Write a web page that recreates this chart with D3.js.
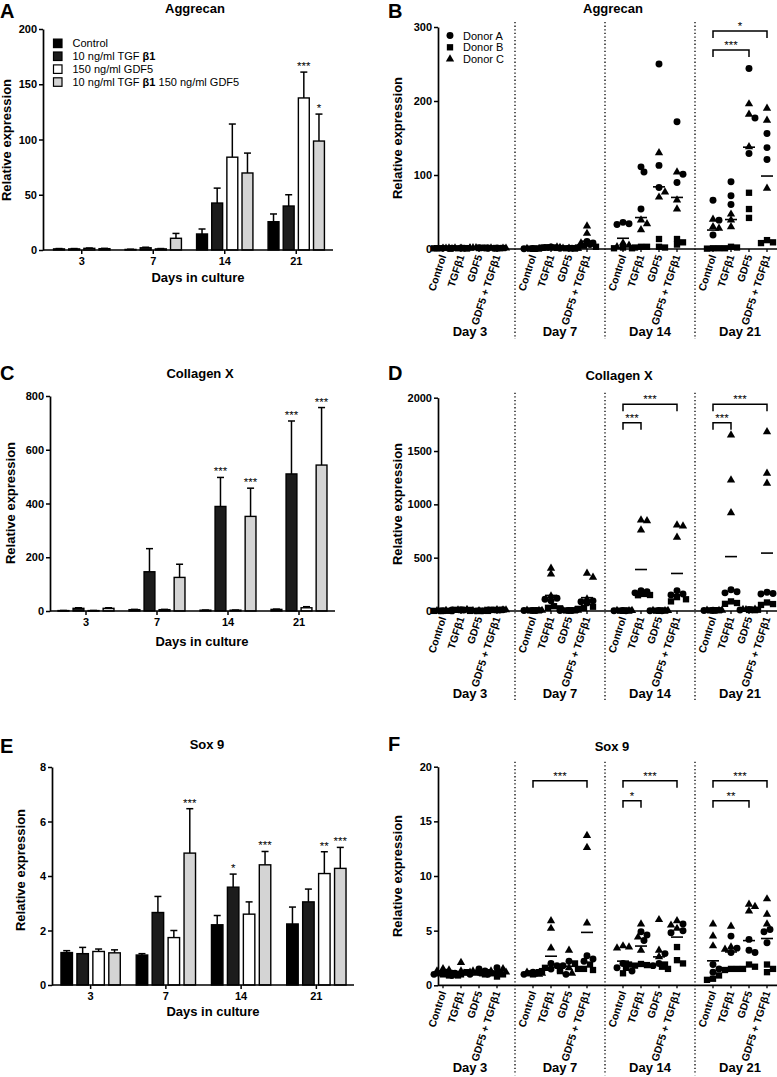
<!DOCTYPE html>
<html><head><meta charset="utf-8">
<script src="https://cdn.jsdelivr.net/npm/d3@7"></script>
<style>
body{margin:0;background:#fff}
svg{display:block}
text{font-family:"Liberation Sans",Arial,Helvetica,sans-serif;fill:#000}
</style>
</head><body>
<svg id="chart" width="777" height="1077"></svg>
<script>
// ---------------- DATA ----------------
const days = ["3", "7", "14", "21"];
const dayLabels = ["Day 3", "Day 7", "Day 14", "Day 21"];
const catLabels = ["Control", "TGFβ1", "GDF5", "GDF5 + TGFβ1"];
const legendTreatments = [["Control", ""], ["10 ng/ml TGF ", "β1"], ["150 ng/ml GDF5", ""], ["10 ng/ml TGF ", "β1", " 150 ng/ml GDF5"]];
const donors = ["Donor A", "Donor B", "Donor C"];

// Bar panels: mean and upper error per [day][treatment]
const aggMean = [[1.0, 1.0, 1.5, 1.2], [0.5, 2.0, 1.0, 10.6], [14.5, 42.5, 84, 69.7], [25.6, 39.8, 137.6, 98.6]];
const aggErr  = [[0.3, 0.3, 0.3, 0.3], [0.2, 0.5, 0.3, 4.4], [4.5, 13.5, 30, 18], [7, 10.2, 23.4, 24.4]];
const aggStars = [["", "", "", ""], ["", "", "", ""], ["", "", "", ""], ["", "", "***", "*"]];

const colMean = [[1.5, 10, 1.5, 10], [5, 146, 5, 125], [3, 389, 3, 352], [6, 510, 12, 543]];
const colErr  = [[0.5, 2, 0.5, 2], [1, 86, 1, 49], [0.5, 108, 0.5, 105], [1, 197, 4, 214]];
const colStars = [["", "", "", ""], ["", "", "", ""], ["", "***", "", "***"], ["", "***", "", "***"]];

const soxMean = [[1.19, 1.15, 1.23, 1.18], [1.10, 2.66, 1.74, 4.84], [2.21, 3.59, 2.60, 4.41], [2.24, 3.05, 4.09, 4.28]];
const soxErr  = [[0.07, 0.23, 0.09, 0.11], [0.05, 0.59, 0.26, 1.63], [0.34, 0.48, 0.45, 0.49], [0.62, 0.47, 0.80, 0.77]];
const soxStars = [["", "", "", ""], ["", "", "", "***"], ["", "*", "", "***"], ["", "", "**", "***"]];

// Dot panels: per donor, [day][treatment] -> replicate values
const aggDonorA = [
  [[1.2, 1.0, 0.8], [1.1, 0.9, 1.3], [1.7, 1.4, 1.2], [1.4, 1.1, 1.0]],
  [[0.6, 0.5, 0.4], [2.8, 2.2, 1.9], [1.2, 1.0, 0.9], [10, 8, 6]],
  [[36, 34, 33], [111, 104, 54], [250, 113, 83], [172, 101, 90]],
  [[66, 39, 19], [91, 72, 60], [244, 177, 129], [156, 137, 121]]];
const aggDonorB = [
  [[0.9, 1.1, 1.0], [0.8, 1.0, 1.2], [1.5, 1.3, 1.6], [1.2, 1.0, 1.3]],
  [[0.5, 0.4, 0.6], [1.5, 2.0, 1.8], [1.0, 0.8, 1.1], [4.5, 3, 2]],
  [[2, 1, 1], [3, 3, 2], [13.5, 3, 2], [13.5, 9, 6]],
  [[1, 1, 0.5], [3, 2, 1], [76, 54, 42], [12, 9, 8]]];
const aggDonorC = [
  [[1.1, 0.9, 1.2], [1.2, 1.0, 0.9], [1.4, 1.6, 1.5], [1.1, 1.3, 1.0]],
  [[0.5, 0.6, 0.4], [2.5, 1.6, 2.0], [1.0, 1.1, 0.9], [31, 21, 8]],
  [[8, 5, 3], [39, 34, 26], [130, 77, 70], [104, 66, 54]],
  [[40, 30, 28], [47, 39, 30], [196, 182, 138], [190, 174, 82]]];

const colDonorA = [
  [[1, 2, 1], [12, 10, 9], [1, 2, 1], [11, 9, 10]],
  [[5, 4, 6], [120, 110, 95], [5, 6, 4], [95, 86, 76]],
  [[3, 2, 4], [190, 180, 170], [3, 2, 4], [190, 160, 150]],
  [[6, 5, 7], [200, 180, 170], [15, 12, 10], [175, 165, 160]]];
const colDonorB = [
  [[2, 1, 1], [9, 11, 10], [1, 1, 2], [10, 11, 9]],
  [[4, 5, 6], [45, 30, 25], [4, 5, 6], [40, 28, 20]],
  [[3, 4, 2], [160, 150, 148], [3, 2, 4], [130, 110, 90]],
  [[5, 6, 7], [90, 75, 67], [8, 10, 12], [80, 65, 57]]];
const colDonorC = [
  [[1, 2, 2], [10, 12, 8], [2, 1, 1], [12, 8, 10]],
  [[5, 6, 4], [400, 347, 140], [6, 4, 5], [353, 316, 111]],
  [[4, 3, 2], [853, 846, 759], [4, 3, 2], [806, 797, 690]],
  [[6, 7, 5], [1650, 1228, 921], [14, 12, 15], [1680, 1290, 1197]]];

const soxDonorA = [
  [[1.1, 1.2, 1.0], [1.0, 0.9, 1.1], [1.5, 1.3, 1.2], [1.6, 1.2, 1.0]],
  [[1.1, 1.2, 1.0], [2.0, 1.8, 1.5], [2.2, 1.8, 1.0], [2.7, 2.4, 2.2]],
  [[2.0, 1.6, 1.3], [4.9, 4.6, 4.1], [2.9, 2.0, 1.8], [5.6, 5.0, 4.8]],
  [[1.9, 1.5, 1.2], [4.5, 3.4, 3.0], [4.2, 3.2, 3.0], [5.1, 4.9, 3.9]]];
const soxDonorB = [
  [[1.0, 1.1, 0.9], [1.0, 0.9, 1.2], [1.1, 1.0, 1.2], [1.0, 0.8, 1.1]],
  [[1.1, 1.0, 1.2], [1.6, 1.4, 1.3], [2.0, 1.5, 1.3], [1.9, 1.5, 1.4]],
  [[1.9, 1.6, 1.1], [1.95, 1.85, 1.8], [1.9, 1.7, 1.5], [3.5, 2.3, 2.0]],
  [[0.9, 0.6, 0.5], [1.5, 1.5, 1.4], [1.9, 1.7, 1.5], [1.9, 1.5, 1.2]]];
const soxDonorC = [
  [[1.4, 1.3, 1.5], [2.07, 1.3, 1.1], [1.3, 1.2, 1.1], [1.5, 1.3, 1.2]],
  [[1.2, 1.1, 1.0], [5.9, 5.2, 3.4], [3.2, 1.6, 1.1], [13.7, 12.6, 5.7]],
  [[3.6, 3.5, 3.4], [5.6, 4.4, 3.2], [6.0, 3.2, 2.6], [5.9, 5.5, 5.2]],
  [[5.6, 4.5, 3.6], [5.4, 3.5, 3.3], [7.4, 7.2, 6.8], [7.9, 6.5, 5.6]]];

// significance brackets: day index, treatment from/to, level (0 = outer)
const aggBrackets = [
  {day: 3, from: 0, to: 2, level: 1, label: "***"},
  {day: 3, from: 0, to: 3, level: 0, label: "*"}];
const colBrackets = [
  {day: 2, from: 0, to: 1, level: 1, label: "***"},
  {day: 2, from: 0, to: 3, level: 0, label: "***"},
  {day: 3, from: 0, to: 1, level: 1, label: "***"},
  {day: 3, from: 0, to: 3, level: 0, label: "***"}];
const soxBrackets = [
  {day: 1, from: 0, to: 3, level: 0, label: "***"},
  {day: 2, from: 0, to: 3, level: 0, label: "***"},
  {day: 2, from: 0, to: 1, level: 1, label: "*"},
  {day: 3, from: 0, to: 3, level: 0, label: "***"},
  {day: 3, from: 0, to: 2, level: 1, label: "**"}];

// ---------------- DRAWING ----------------
const svg = d3.select("#chart");
const barFills = ["#000000", "#1c1c1c", "#ffffff", "#d4d4d4"];
const symbolTypes = [d3.symbolCircle, d3.symbolSquare, d3.symbolTriangle];
const symbolSizes = [38, 40, 30];

function txt(g, x, y, s, size, weight, anchor) {
  return g.append("text").attr("x", x).attr("y", y).attr("font-size", size)
    .attr("font-weight", weight || "normal").attr("text-anchor", anchor || "start").text(s);
}

function yAxis(g, y, ticks, x0) {
  const a = g.append("g").attr("transform", `translate(${x0},0)`)
    .call(d3.axisLeft(y).tickValues(ticks).tickSize(4).tickSizeOuter(0).tickPadding(2).tickFormat(d3.format("d")));
  a.attr("font-family", null).attr("font-size", null);
  a.select(".domain").attr("stroke-width", 1.7);
  a.selectAll(".tick line").attr("stroke-width", 1.5);
  a.selectAll(".tick text").attr("font-size", 11).attr("font-weight", "bold").attr("fill", "#000");
}

function decorations(g, cfg) {
  txt(g, cfg.letterX, cfg.letterY, cfg.letter, 20, "bold");
  txt(g, cfg.titleX, cfg.titleY, cfg.title, 13, "bold", "middle");
  g.append("text").attr("transform", `translate(${cfg.ylabelX},${cfg.ylabelY}) rotate(-90)`)
    .attr("text-anchor", "middle").attr("font-size", 13).attr("font-weight", "bold").text("Relative expression");
}

function barPanel(cfg, means, errs, stars, legend) {
  const g = svg.append("g");
  const y = d3.scaleLinear().domain([0, cfg.max]).range([cfg.y0, cfg.y1]);
  const gx = d3.scaleBand().domain(days).range(cfg.groupRange);
  const bx = d3.scaleBand().domain(d3.range(4)).range([0, gx.bandwidth()]).paddingInner(0.28).paddingOuter(0.5);
  decorations(g, cfg);
  days.forEach((d, di) => {
    means[di].forEach((m, ti) => {
      const x = gx(d) + bx(ti), w = bx.bandwidth(), cx = x + w / 2;
      const top = y(m + errs[di][ti]);
      g.append("line").attr("x1", cx).attr("x2", cx).attr("y1", y(m)).attr("y2", top).attr("stroke", "#000").attr("stroke-width", 1.5);
      g.append("line").attr("x1", cx - 3.5).attr("x2", cx + 3.5).attr("y1", top).attr("y2", top).attr("stroke", "#000").attr("stroke-width", 1.5);
      g.append("rect").attr("x", x).attr("y", y(m)).attr("width", w).attr("height", Math.max(0.5, y(0) - y(m)))
        .attr("fill", barFills[ti]).attr("stroke", "#000").attr("stroke-width", 1.4);
      if (stars[di][ti]) txt(g, cx, top - 2, stars[di][ti], 11.5, "normal", "middle");
    });
  });
  yAxis(g, y, cfg.ticks, cfg.x0);
  // x axis
  g.append("line").attr("x1", cfg.x0).attr("x2", cfg.x1).attr("y1", cfg.y0).attr("y2", cfg.y0).attr("stroke", "#000").attr("stroke-width", 1.7);
  days.forEach(d => {
    const cx = gx(d) + gx.bandwidth() / 2;
    g.append("line").attr("x1", cx).attr("x2", cx).attr("y1", cfg.y0).attr("y2", cfg.y0 + 4).attr("stroke", "#000").attr("stroke-width", 1.5);
    txt(g, cx, cfg.y0 + 15, d, 11, "bold", "middle");
  });
  txt(g, cfg.xlabelX, cfg.xlabelY, "Days in culture", 13, "bold", "middle");
  if (legend) {
    legendTreatments.forEach((parts, i) => {
      const ly = cfg.legendY + i * 12.9;
      g.append("rect").attr("x", cfg.legendX).attr("y", ly - 4.2).attr("width", 8.5).attr("height", 8.5)
        .attr("fill", barFills[i]).attr("stroke", "#000").attr("stroke-width", 1.2);
      const t = g.append("text").attr("x", cfg.legendX + 19).attr("y", ly + 4).attr("font-size", 11);
      parts.forEach((p, k) => t.append("tspan").attr("font-weight", k === 1 ? "bold" : "normal").text(p));
    });
  }
}

function dotPanel(cfg, donorSets, means, brackets, legend) {
  const g = svg.append("g");
  const y = d3.scaleLinear().domain([0, cfg.max]).range([cfg.y0, cfg.y1]);
  const sx = d3.scalePoint().domain(d3.range(19)).range(cfg.slotRange);
  const slot = (di, ti) => di * 5 + ti;
  decorations(g, cfg);
  // separators
  [4, 9, 14].forEach(s => {
    g.append("line").attr("x1", sx(s)).attr("x2", sx(s)).attr("y1", cfg.y1 - 5).attr("y2", cfg.y0 + 90)
      .attr("stroke", "#000").attr("stroke-width", 1.3).attr("stroke-dasharray", "1.3,2.3");
  });
  // points
  days.forEach((d, di) => {
    for (let ti = 0; ti < 4; ti++) {
      const cx = sx(slot(di, ti));
      const pts = [];
      donorSets.forEach((set, k) => set[di][ti].forEach(v => pts.push({v, k, py: y(v)})));
      pts.sort((a, b) => a.py - b.py);
      const placed = [];
      const offs = [0, 3, -3, 6, -6, 9, -9];
      pts.forEach(p => {
        let best = null, bestScore = -1;
        for (const o of offs) {
          let md = Infinity;
          placed.forEach(q => { md = Math.min(md, Math.hypot(q.px - (cx + o), q.py - p.py)); });
          if (md >= 5.5) { best = o; bestScore = Infinity; break; }
          if (md > bestScore) { bestScore = md; best = o; }
        }
        p.px = cx + best;
        placed.push(p);
      });
      placed.forEach(p => {
        g.append("path").attr("transform", `translate(${p.px},${p.py})`)
          .attr("d", d3.symbol().type(symbolTypes[p.k]).size(symbolSizes[p.k])()).attr("fill", "#000");
      });
      const my = y(means[di][ti]);
      g.append("line").attr("x1", cx - 6).attr("x2", cx + 6).attr("y1", my).attr("y2", my).attr("stroke", "#000").attr("stroke-width", 1.6);
    }
  });
  yAxis(g, y, cfg.ticks, cfg.x0);
  g.append("line").attr("x1", cfg.x0).attr("x2", cfg.x1).attr("y1", cfg.y0).attr("y2", cfg.y0).attr("stroke", "#000").attr("stroke-width", 1.7);
  days.forEach((d, di) => {
    for (let ti = 0; ti < 4; ti++) {
      const cx = sx(slot(di, ti));
      g.append("line").attr("x1", cx).attr("x2", cx).attr("y1", cfg.y0).attr("y2", cfg.y0 + 3).attr("stroke", "#000").attr("stroke-width", 1.3);
      g.append("text").attr("transform", `translate(${cx},${cfg.y0 + 6}) rotate(-72)`)
        .attr("text-anchor", "end").attr("dy", "0.35em").attr("font-size", 10.5).attr("font-weight", "bold").text(catLabels[ti]);
    }
    const gc = (sx(slot(di, 0)) + sx(slot(di, 3))) / 2;
    txt(g, gc, cfg.y0 + 87, dayLabels[di], 13, "bold", "middle");
  });
  // brackets
  brackets.forEach(b => {
    const by = cfg.y1 + cfg.bracketOff[b.level];
    const xa = sx(slot(b.day, b.from)), xb = sx(slot(b.day, b.to));
    g.append("path").attr("d", `M${xa},${by + 7}V${by}H${xb}V${by + 7}`).attr("fill", "none").attr("stroke", "#000").attr("stroke-width", 1.5);
    txt(g, (xa + xb) / 2, by - 1, b.label, 11.5, "normal", "middle");
  });
  if (legend) {
    donors.forEach((dn, i) => {
      const ly = cfg.legendY + i * 11.8;
      g.append("path").attr("transform", `translate(${cfg.legendX},${ly})`)
        .attr("d", d3.symbol().type(symbolTypes[i]).size(symbolSizes[i])()).attr("fill", "#000");
      txt(g, cfg.legendX + 13, ly + 4, dn, 11, "normal");
    });
  }
}

barPanel({x0: 43, x1: 333, y0: 250, y1: 29, max: 200, ticks: [0, 50, 100, 150, 200], groupRange: [46, 332],
  title: "Aggrecan", titleX: 195, titleY: 13, letter: "A", letterX: 0, letterY: 18,
  ylabelX: 11, ylabelY: 140, xlabelX: 198, xlabelY: 282, legendX: 53.5, legendY: 43.3}, aggMean, aggErr, aggStars, true);
barPanel({x0: 50, x1: 335, y0: 611, y1: 396, max: 800, ticks: [0, 200, 400, 600, 800], groupRange: [50.5, 334.5],
  title: "Collagen X", titleX: 200, titleY: 378, letter: "C", letterX: 0, letterY: 380,
  ylabelX: 14.5, ylabelY: 503, xlabelX: 202, xlabelY: 646}, colMean, colErr, colStars, false);
barPanel({x0: 52, x1: 354, y0: 985, y1: 767, max: 8, ticks: [0, 2, 4, 6, 8], groupRange: [53, 354],
  title: "Sox 9", titleX: 207, titleY: 749, letter: "E", letterX: 0, letterY: 753,
  ylabelX: 24.5, ylabelY: 870, xlabelX: 213, xlabelY: 1016}, soxMean, soxErr, soxStars, false);

dotPanel({x0: 438, x1: 777, y0: 249, y1: 27, max: 300, ticks: [0, 100, 200, 300], slotRange: [443, 767],
  title: "Aggrecan", titleX: 613, titleY: 13, letter: "B", letterX: 388, letterY: 18,
  ylabelX: 401.5, ylabelY: 138, bracketOff: [4, 23], legendX: 450, legendY: 35.5},
  [aggDonorA, aggDonorB, aggDonorC], aggMean, aggBrackets, true);
dotPanel({x0: 438, x1: 777, y0: 611, y1: 397.7, max: 2000, ticks: [0, 500, 1000, 1500, 2000], slotRange: [443, 767],
  title: "Collagen X", titleX: 619, titleY: 380, letter: "D", letterX: 388, letterY: 380,
  ylabelX: 401.5, ylabelY: 504, bracketOff: [6.5, 25]},
  [colDonorA, colDonorB, colDonorC], colMean, colBrackets, false);
dotPanel({x0: 438, x1: 777, y0: 985.3, y1: 766.7, max: 20, ticks: [0, 5, 10, 15, 20], slotRange: [443, 767],
  title: "Sox 9", titleX: 612, titleY: 751, letter: "F", letterX: 388, letterY: 751,
  ylabelX: 401.5, ylabelY: 876, bracketOff: [14, 34]},
  [soxDonorA, soxDonorB, soxDonorC], soxMean, soxBrackets, false);
</script>
</body></html>
